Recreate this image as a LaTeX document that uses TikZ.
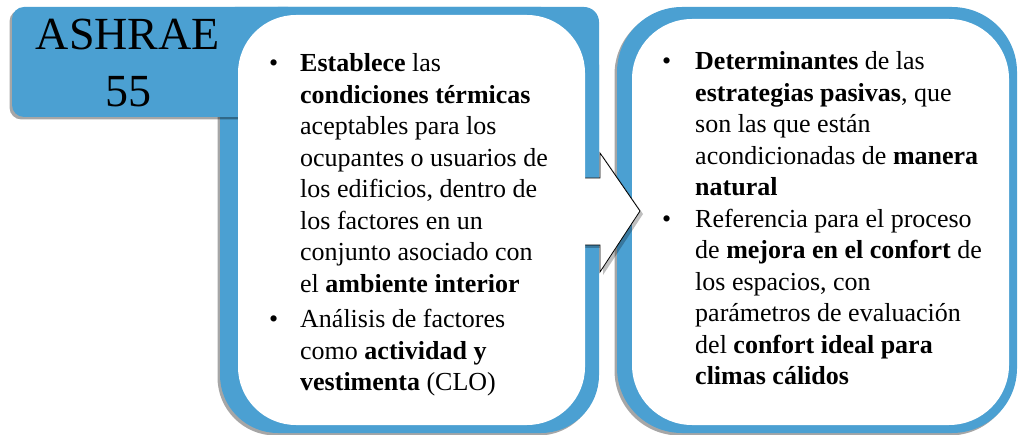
\documentclass[tikz,border=0pt]{standalone}
\usepackage{fontspec}
\setmainfont{Liberation Serif}
\usetikzlibrary{shadows}

\definecolor{panelblue}{RGB}{75,160,210}
\tikzset{
  frame/.style={fill=panelblue, drop shadow={shadow xshift=-2.5pt, shadow yshift=-2.5pt, opacity=.35, fill=black}},
  inner/.style={fill=white, rounded corners=58pt},
  bodytext/.style={anchor=base west, inner sep=0pt, font=\fontsize{26}{31.5}\selectfont},
}

\begin{document}
\begin{tikzpicture}[x=1pt,y=-1pt]
\useasboundingbox (0,0) rectangle (1019,435);
% right panel
\path[frame, rounded corners=65pt] (617,7) rectangle (1017,433);
\path[inner, rounded corners=60pt] (632,19) rectangle (1009,425);
% left panel
\path[frame, rounded corners=58pt] (220,7) rectangle (599,433);
\path[fill=panelblue, rounded corners=15pt] (220,7) rectangle (599,200);
\path[frame, rounded corners=12pt] (12,7) rectangle (300,117);
% arrow
\fill[black, opacity=.25] (572,181) -- (603,181) -- (603,156) -- (643,214) -- (603,275) -- (603,248) -- (572,248) -- cycle;
\fill[white] (570,178) -- (600,178) -- (600,153) -- (640,211) -- (600,272) -- (600,245) -- (570,245) -- cycle;
\draw[black, line width=.8pt, line join=miter]
  (570,178) -- (600,178) -- (600,153) -- (640,211) -- (600,272) -- (600,245) -- (570,245);
\path[inner] (238,15) rectangle (585,425);
% texts
\node[anchor=base, inner sep=0pt, font=\fontsize{46}{57}\selectfont] (tab) at (128,50)
  {\begin{tabular}[t]{@{}c@{}}ASHRAE\\55\end{tabular}};
\node[bodytext] (left) at (269,72) {\begin{tabular}[t]{@{}p{31pt}@{}l@{}}
\textbullet & \textbf{Establece} las\\
& \textbf{condiciones térmicas}\\
& aceptables para los\\
& ocupantes o usuarios de\\
& los edificios, dentro de\\
& los factores en un\\
& conjunto asociado con\\
& el \textbf{ambiente interior}\\[4pt]
\textbullet & Análisis de factores\\
& como \textbf{actividad y}\\
& \textbf{vestimenta} (CLO)
\end{tabular}};
\node[bodytext] (right) at (662,70) {\begin{tabular}[t]{@{}p{33pt}@{}l@{}}
\textbullet & \textbf{Determinantes} de las\\
& \textbf{estrategias pasivas}, que\\
& son las que están\\
& acondicionadas de \textbf{manera}\\
& \textbf{natural}\\
\textbullet & Referencia para el proceso\\
& de \textbf{mejora en el confort} de\\
& los espacios, con\\
& parámetros de evaluación\\
& del \textbf{confort ideal para}\\
& \textbf{climas cálidos}
\end{tabular}};
\end{tikzpicture}
\end{document}
